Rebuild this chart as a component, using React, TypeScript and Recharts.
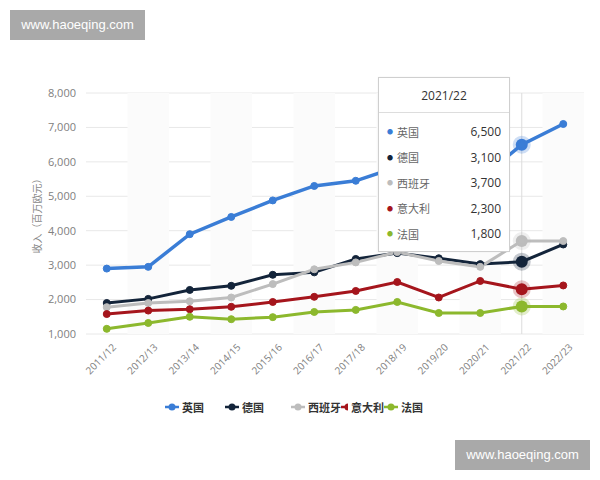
import React from 'react';
import { LineChart, Line, XAxis, YAxis, CartesianGrid, Tooltip, ReferenceArea } from 'recharts';

const seasons = ['2011/12', '2012/13', '2013/14', '2014/15', '2015/16', '2016/17', '2017/18', '2018/19', '2019/20', '2020/21', '2021/22', '2022/23'];
const uk = [2900, 2950, 3900, 4400, 4880, 5300, 5450, 5850, 5100, 5500, 6500, 7100];
const de = [1900, 2020, 2280, 2400, 2720, 2790, 3180, 3350, 3200, 3030, 3100, 3600];
const es = [1780, 1900, 1950, 2060, 2450, 2880, 3080, 3380, 3120, 2950, 3700, 3700];
const it = [1580, 1680, 1720, 1790, 1930, 2080, 2250, 2510, 2060, 2540, 2300, 2410];
const fr = [1150, 1320, 1500, 1430, 1490, 1640, 1700, 1930, 1610, 1610, 1800, 1800];
const yTicks = [1000, 2000, 3000, 4000, 5000, 6000, 7000, 8000];

const series = [
  { key: 'uk', name: '英国', values: uk, color: '#3a7dd6' },
  { key: 'de', name: '德国', values: de, color: '#13243a' },
  { key: 'es', name: '西班牙', values: es, color: '#bdbdbd' },
  { key: 'it', name: '意大利', values: it, color: '#a5151c' },
  { key: 'fr', name: '法国', values: fr, color: '#8cb82d' },
];

const data = seasons.map((s, i) => {
  const row: any = { season: s };
  series.forEach((ser) => { row[ser.key] = ser.values[i]; });
  return row;
});

const FONT = '"Open Sans", "Noto Sans CJK SC", sans-serif';
const legendSlots = [60, 66, 50, 43, 40];

const fmt = (v: number) => v.toLocaleString('en-US');

const TipContent = (props: any) => {
  const { payload, label } = props;
  if (!payload || !payload.length) return null;
  return (
    <div style={{ width: 130, background: '#fff', border: '1px solid #cfcfcf', fontFamily: FONT, boxShadow: '0 0 2px rgba(0,0,0,0.05)' }}>
      <div style={{ textAlign: 'center', fontSize: 12, color: '#333', padding: '9px 0 8px', borderBottom: '1px solid #ddd' }}>{label}</div>
      <div style={{ padding: '6px 8px 4px 8px' }}>
        {payload.map((p: any) => (
          <div key={p.dataKey} style={{ display: 'flex', alignItems: 'center', height: 25.5, fontSize: 11 }}>
            <span style={{ color: p.color, fontSize: 6, marginRight: 4 }}>●</span>
            <span style={{ color: '#666', flex: 1 }}>{p.name}</span>
            <span style={{ color: '#333', fontSize: 12 }}>{fmt(p.value)}</span>
          </div>
        ))}
      </div>
    </div>
  );
};

const Watermark = ({ left, top }: { left: number; top: number }) => (
  <div style={{ position: 'absolute', left, top, width: 135, height: 30, background: '#a9a9a9', color: '#fff', fontFamily: '"Liberation Sans", Arial, sans-serif', fontSize: 13, lineHeight: '30px', textAlign: 'center' }}>
    www.haoeqing.com
  </div>
);

export default function App() {
  return (
    <div style={{ position: 'absolute', left: 0, top: 0, width: 600, height: 480, background: '#fff', overflow: 'hidden' }}>
      <LineChart width={600} height={480} data={data} margin={{ top: 93, right: 16, bottom: 96, left: 0 }}>
        {seasons.map((s, i) => (i % 2 === 1 ? (
          <ReferenceArea key={s} x1={s} x2={s} y1={1000} y2={8000} fill="#fbfbfb" fillOpacity={1} stroke="none" ifOverflow="visible" />
        ) : null))}
        <CartesianGrid vertical={false} stroke="#e8e8e8" />
        <XAxis
          dataKey="season"
          scale="band"
          axisLine={false}
          tickLine={false}
          interval={0}
          height={50}
          tick={{ fontSize: 10, fill: '#808080', fontFamily: FONT, angle: -45, textAnchor: 'end', dx: 5, dy: 1 } as any}
        />
        <YAxis
          width={86}
          domain={[1000, 8000]}
          ticks={yTicks}
          axisLine={false}
          tickLine={false}
          tickFormatter={fmt}
          tick={{ fontSize: 11, fill: '#808080', fontFamily: FONT, dx: -2 } as any}
          label={{ value: '收入（百万欧元）', angle: -90, position: 'center', dx: -6, style: { fontSize: 10, fill: '#888', fontFamily: FONT } } as any}
        />
        <Tooltip
          defaultIndex={10}
          position={{ x: 378, y: 77 }}
          isAnimationActive={false}
          cursor={{ stroke: '#dcdcdc', strokeWidth: 1 }}
          content={<TipContent />}
          wrapperStyle={{ outline: 'none' }}
        />
        {series.map((s) => (
          <Line
            key={s.key}
            dataKey={s.key}
            name={s.name}
            stroke={s.color}
            strokeWidth={s.key === 'uk' ? 3.5 : 3}
            dot={{ r: 3.5, fill: s.color, stroke: s.color, strokeWidth: 1 }}
            activeDot={{ r: 6, fill: s.color, stroke: s.color, strokeWidth: 6, strokeOpacity: 0.25 } as any}
            isAnimationActive={false}
          />
        ))}
      </LineChart>
      <div style={{ position: 'absolute', left: 165, top: 399, display: 'flex', fontFamily: FONT, fontSize: 11, fontWeight: 700, color: '#333' }}>
        {series.map((s, i) => (
          <div key={s.key} style={{ width: legendSlots[i], display: 'flex', alignItems: 'center', whiteSpace: 'nowrap' }}>
            <svg width={14} height={10} style={{ marginRight: 3 }}>
              <line x1={0} y1={5} x2={14} y2={5} stroke={s.color} strokeWidth={2.5} />
              <circle cx={7} cy={5} r={3.5} fill={s.color} />
            </svg>
            <span>{s.name}</span>
          </div>
        ))}
      </div>
      <Watermark left={10} top={10} />
      <Watermark left={455} top={440} />
    </div>
  );
}
